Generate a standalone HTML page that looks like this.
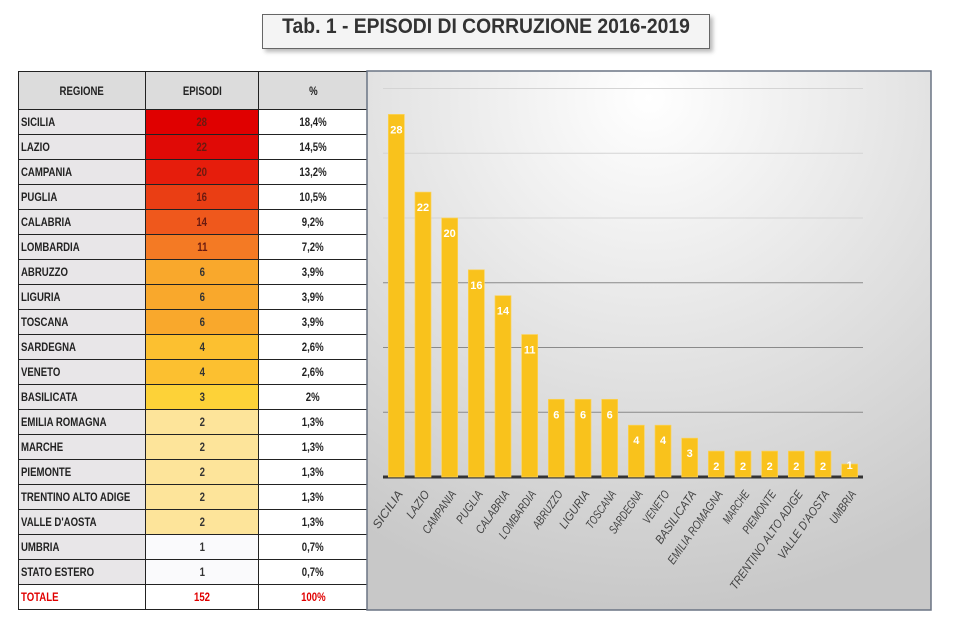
<!DOCTYPE html>
<html><head><meta charset="utf-8">
<style>
body{margin:0;width:956px;height:639px;background:#fff;position:relative;overflow:hidden;font-family:"Liberation Sans",sans-serif;}
#title{position:absolute;left:262px;top:14px;width:446px;height:33px;border:1px solid #666;background:#f4f4f4;box-shadow:3px 3px 4px #bbb;color:#333;line-height:33px;white-space:nowrap;}
#title span{position:absolute;left:50%;top:0;font:bold 21px "Liberation Sans",sans-serif;transform:translateX(-50%) scaleX(0.92);}
table{position:absolute;left:18px;top:71px;border-collapse:collapse;table-layout:fixed;width:349px;font-size:12px;color:#222;}
td{border:1.5px solid #222;height:24px;padding:0 2px;background:#e8e6e8;white-space:nowrap;overflow:hidden;font-weight:bold;}
td span{display:inline-block;transform:scaleX(0.8);transform-origin:left center;}
td.c{text-align:center}
td.c span{transform-origin:center center;}
tr.h td{height:37px;background:#dcdcdc;text-align:center}
tr.h td span{transform-origin:center center;}
#chart{position:absolute;left:0;top:0}
</style></head><body>
<div id="title"><span>Tab. 1 - EPISODI DI CORRUZIONE 2016-2019</span></div>
<table>
<colgroup><col style="width:127px"><col style="width:113px"><col style="width:109px"></colgroup>
<tbody id="tb"><tr class="h"><td><span>REGIONE</span></td><td><span>EPISODI</span></td><td><span>%</span></td></tr></tbody>
</table>
<svg id="chart" width="956" height="639">
<defs><radialGradient id="bg" cx="0.5" cy="0.05" r="0.95"><stop offset="0" stop-color="#ffffff"/><stop offset="1" stop-color="#c8c8c8"/></radialGradient></defs>
<rect x="367" y="71" width="564" height="539" fill="url(#bg)" stroke="#6a7484" stroke-width="1.5"/>
<g id="grid"></g><g id="bars"></g><g id="labels"></g>
</svg>
<script>
const regions=["SICILIA","LAZIO","CAMPANIA","PUGLIA","CALABRIA","LOMBARDIA","ABRUZZO","LIGURIA","TOSCANA","SARDEGNA","VENETO","BASILICATA","EMILIA ROMAGNA","MARCHE","PIEMONTE","TRENTINO ALTO ADIGE","VALLE D'AOSTA","UMBRIA","STATO ESTERO"];
const episodi=[28,22,20,16,14,11,6,6,6,4,4,3,2,2,2,2,2,1,1];
const percent=["18,4%","14,5%","13,2%","10,5%","9,2%","7,2%","3,9%","3,9%","3,9%","2,6%","2,6%","2%","1,3%","1,3%","1,3%","1,3%","1,3%","0,7%","0,7%"];
const cellColors=["#e00000","#e00a06","#e61d0c","#ea3e14","#ef581c","#f47a24","#f9a82c","#f9a82c","#f9a82c","#fcc030","#fcc030","#fdd238","#fde49a","#fde49a","#fde49a","#fde49a","#fde49a","#fafafc","#fafafc"];
const chartCats=regions.slice(0,18);
const chartVals=episodi.slice(0,18);
const yTicks=[0,5,10,15,20,25,30];
const NS="http://www.w3.org/2000/svg";
const tb=document.getElementById('tb');
regions.forEach((r,i)=>{
 const tr=document.createElement('tr');
 
 
 tr.innerHTML=`<td><span>${r}</span></td><td class="c" style="background:${cellColors[i]};color:${i<6?'#6a1a10':'#333'}"><span>${episodi[i]}</span></td><td class="c" style="background:#fff"><span>${percent[i]}</span></td>`;
 tb.appendChild(tr);
});
const tt=document.createElement('tr');


tt.innerHTML=`<td style="background:#fff;color:#e00000"><span>TOTALE</span></td><td class="c" style="background:#fff;color:#e00000"><span>${episodi.reduce((a,b)=>a+b,0)}</span></td><td class="c" style="background:#fff;color:#e00000"><span>100%</span></td>`;
tb.appendChild(tt);
const x0=383,x1=863,yB=477,pxU=12.95;
const y=v=>yB-v*pxU;
const step=(x1-x0)/chartCats.length;
const grid=document.getElementById('grid');
yTicks.forEach(t=>{
 const l=document.createElementNS(NS,'line');
 
 
 l.setAttribute('x1',x0);l.setAttribute('x2',x1);l.setAttribute('y1',y(t));l.setAttribute('y2',y(t));
 l.setAttribute('stroke',t===0?'#333':(t>=20?'#d4d4d4':'#8a8a8a'));l.setAttribute('stroke-width',t===0?3:1);
 grid.appendChild(l);
});
const bars=document.getElementById('bars'),labs=document.getElementById('labels');
chartCats.forEach((c,i)=>{
 const cx=x0+step*(i+0.5),v=chartVals[i];
 const r=document.createElementNS(NS,'rect');
 
 
 r.setAttribute('x',cx-8);r.setAttribute('width',16);r.setAttribute('y',y(v));r.setAttribute('height',v*pxU);
 r.setAttribute('fill','#f9c21c');r.setAttribute('stroke','#fbd35a');r.setAttribute('stroke-width','0.7');
 bars.appendChild(r);
 const t=document.createElementNS(NS,'text');
 
 
 t.setAttribute('x',cx);t.setAttribute('y',y(v)+(v>1?19:5));t.setAttribute('text-anchor','middle');
 t.setAttribute('fill','#fff');t.setAttribute('font-size','11');t.setAttribute('font-weight','bold');
 t.textContent=v;bars.appendChild(t);
 const l=document.createElementNS(NS,'text');
 
 
 l.setAttribute('transform',`translate(${cx+7},${yB+17}) rotate(-55)`);
 l.setAttribute('text-anchor','end');l.setAttribute('font-size','12');l.setAttribute('font-style','italic');l.setAttribute('fill','#444');
 l.setAttribute('textLength',c.length*6.2);l.setAttribute('lengthAdjust','spacingAndGlyphs');
 l.textContent=c;labs.appendChild(l);
});
</script>
</body></html>
